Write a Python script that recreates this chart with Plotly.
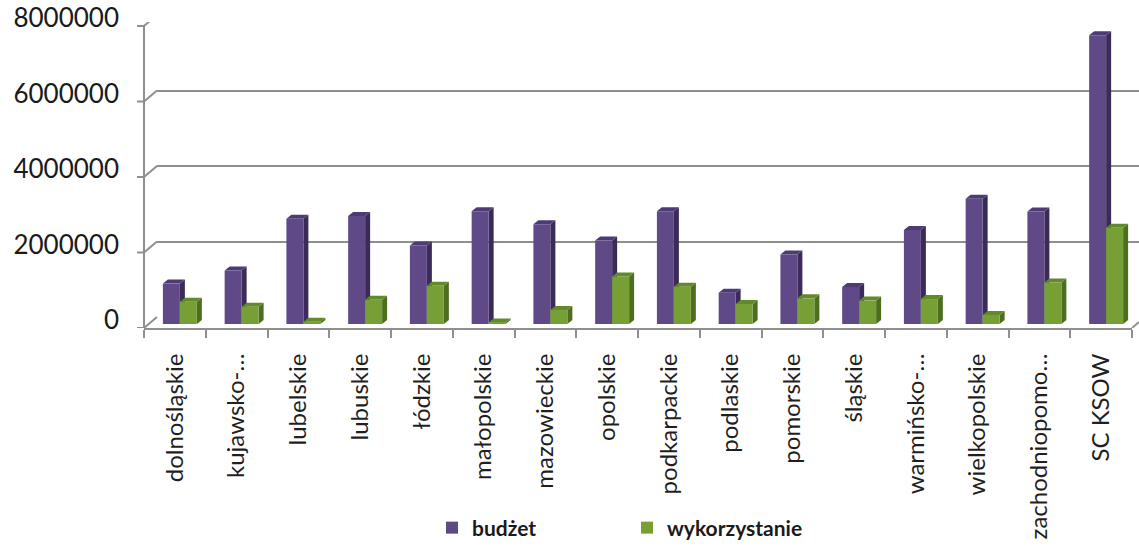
import plotly.graph_objects as go

# ---------------- data ----------------
categories = ["dolnośląskie", "kujawsko-…", "lubelskie", "lubuskie", "łódzkie",
              "małopolskie", "mazowieckie", "opolskie", "podkarpackie", "podlaskie",
              "pomorskie", "śląskie", "warmińsko-…", "wielkopolskie",
              "zachodniopomo…", "SC KSOW"]
budzet = [1070000, 1420000, 2790000, 2860000, 2080000, 2990000, 2640000, 2210000,
          2990000, 830000, 1840000, 980000, 2490000, 3320000, 2980000, 7650000]
wykorzystanie = [590000, 460000, 60000, 640000, 1010000, 40000, 370000, 1260000,
                 990000, 530000, 680000, 620000, 660000, 240000, 1100000, 2550000]
y_ticks = [0, 2000000, 4000000, 6000000, 8000000]
y_tick_text = ["0", "2000000", "4000000", "6000000", "8000000"]
series_names = ["budżet", "wykorzystanie"]

# ---------------- layout geometry ----------------
W, H = 1139, 546
ML, MR, MT, MB = 144, 0, 15, 218
PW, PH = W - ML - MR, H - MT - MB
CAT_PX = 61.75                    # pixels per category
PX_PER_UNIT = 37.75e-6            # pixels per value unit
YMAX = 8000000
FRONT_DROP = 4                    # front plane below bar plane (px)
BACK_DX, BACK_RISE = 13, 7        # back wall offset (px)
DEPTH_DX, DEPTH_DY = 5, 4         # bar depth (px)

n = len(categories)
x_end = n * CAT_PX / PW
ymin = -FRONT_DROP / PX_PER_UNIT
y_top = (FRONT_DROP + YMAX * PX_PER_UNIT) / PH
front_off = FRONT_DROP / PX_PER_UNIT
back_off = BACK_RISE / PX_PER_UNIT
dx = DEPTH_DX / CAT_PX
dy = DEPTH_DY / PX_PER_UNIT

BAR_W = 0.275
offsets = [-0.194, 0.081]
front_cols = ["#5f4a87", "#76a035"]
side_cols = ["#3b2b58", "#4e6e1f"]
top_cols = ["#4d3b75", "#628a2a"]
GRID = "#8f8f8f"
FONT = "Lato"

fig = go.Figure()

# back wall axes (drawn first) - invisible helper trace
fig.add_trace(go.Scatter(x=[0, 1], y=[0, 0], mode="lines", line=dict(width=0),
                         hoverinfo="skip", showlegend=False, xaxis="x", yaxis="y"))

xs = list(range(n))
shapes = []
for si, vals in enumerate([budzet, wykorzystanie]):
    fig.add_trace(go.Bar(x=xs, y=vals, name=series_names[si], width=BAR_W,
                         offset=offsets[si], marker=dict(color=front_cols[si], line=dict(width=0)),
                         xaxis="x2", yaxis="y2"))
    for i, v in enumerate(vals):
        x0 = i + offsets[si]
        x1 = x0 + BAR_W
        shapes.append(dict(type="path", xref="x2", yref="y2", layer="below",
                           path=f"M {x1},0 L {x1+dx},{dy} L {x1+dx},{v+dy} L {x1},{v} Z",
                           fillcolor=side_cols[si], line=dict(width=0)))
        shapes.append(dict(type="path", xref="x2", yref="y2", layer="below",
                           path=f"M {x0},{v} L {x0+dx},{v+dy} L {x1+dx},{v+dy} L {x1},{v} Z",
                           fillcolor=top_cols[si], line=dict(width=0)))

# left wall diagonals, front vertical axis line and y tick marks
bx = BACK_DX / PW
for v in y_ticks:
    shapes.append(dict(type="line", xref="paper", yref="y2", x0=0, x1=bx,
                       y0=v - front_off, y1=v + back_off, line=dict(color=GRID, width=2)))
    shapes.append(dict(type="line", xref="paper", yref="y2", x0=-7 / PW, x1=0,
                       y0=v - front_off, y1=v - front_off, line=dict(color=GRID, width=2)))
shapes.append(dict(type="line", xref="paper", yref="y2", x0=0, x1=0,
                   y0=-front_off, y1=YMAX - front_off, line=dict(color=GRID, width=2)))
# right floor diagonal
shapes.append(dict(type="line", xref="paper", yref="y2", x0=x_end, x1=x_end + 7 / PW,
                   y0=-front_off, y1=-front_off + 6 / PX_PER_UNIT, line=dict(color=GRID, width=2)))

fig.update_layout(
    template="none",
    width=W, height=H,
    margin=dict(l=ML, r=MR, t=MT, b=MB, autoexpand=False),
    paper_bgcolor="white", plot_bgcolor="rgba(0,0,0,0)",
    font=dict(family=FONT, color="#1a1a1a"),
    barmode="overlay",
    showlegend=True,
    xaxis=dict(domain=[BACK_DX / PW, 1], range=[0, 1], visible=False, fixedrange=True,
               automargin=False),
    yaxis=dict(domain=[BACK_RISE / PH + FRONT_DROP / PH, 1], range=[0, YMAX],
               showgrid=True, gridcolor=GRID, gridwidth=2, tickvals=y_ticks,
               showticklabels=False, zeroline=False, showline=False, ticks="",
               automargin=False),
    xaxis2=dict(domain=[0, x_end], range=[-0.5, n - 0.5], anchor="y2",
                tickmode="array", tickvals=xs, ticktext=categories, tickangle=-90,
                ticks="", showgrid=False, zeroline=False, automargin=False,
                showline=True, linecolor=GRID, linewidth=2,
                tickfont=dict(size=24, color="#1f1f1f"), ticklabelstandoff=14,
                minor=dict(ticks="outside", ticklen=8, tickwidth=2, tickcolor=GRID,
                           tickmode="array", tickvals=[i - 0.5 for i in range(n + 1)],
                           showgrid=False)),
    yaxis2=dict(domain=[0, y_top], range=[ymin, YMAX], anchor="x2",
                tickmode="array", tickvals=y_ticks, ticktext=y_tick_text,
                ticks="", showgrid=False, zeroline=False, showline=False, automargin=False,
                tickfont=dict(size=26, color="#1a1a1a"), ticklabelstandoff=24,
                ticklabelshift=-FRONT_DROP),
    legend=dict(orientation="h", x=(432 - ML) / PW, xanchor="left",
                y=(PH - (528 - MT)) / PH, yanchor="middle",
                font=dict(size=21, weight="bold", color="#1a1a1a"),
                entrywidth=150, entrywidthmode="pixels",
                bgcolor="rgba(0,0,0,0)", itemclick=False),
    shapes=shapes,
)

fig.write_html("out.html", config={"displayModeBar": False},
               post_script="document.body.style.margin='0px';")
